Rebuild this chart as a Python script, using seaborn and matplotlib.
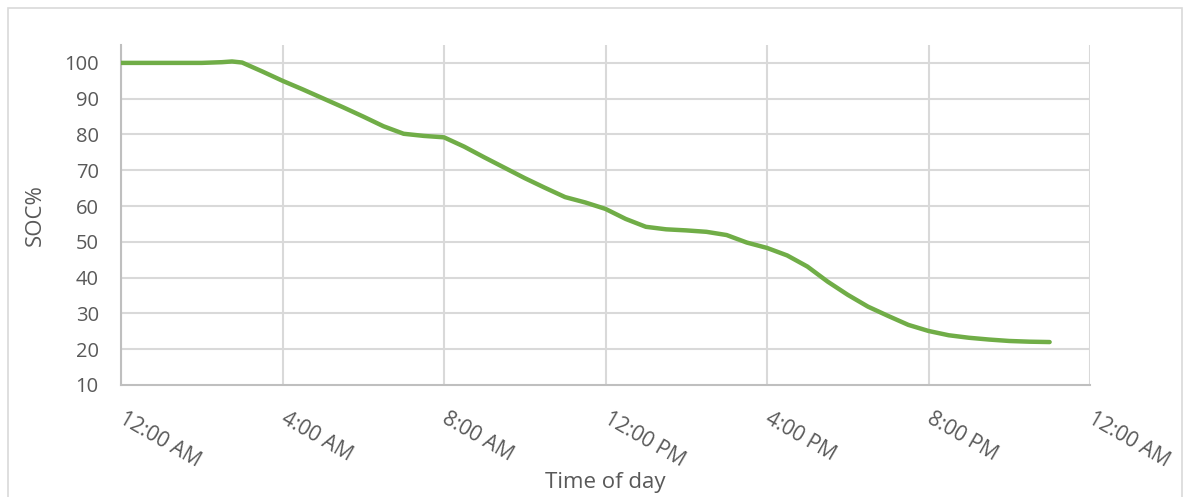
import pandas as pd
import numpy as np
import matplotlib.pyplot as plt
import seaborn as sns
from matplotlib.patches import Rectangle

# state of charge every half hour
hours = [0, 0.5, 1, 1.5, 2, 2.5, 2.75, 3, 3.5, 4, 4.5, 5, 5.5, 6, 6.5, 7, 7.5, 8,
         8.5, 9, 9.5, 10, 10.5, 11, 11.5, 12, 12.5, 13, 13.5, 14, 14.5, 15, 15.5, 16,
         16.5, 17, 17.5, 18, 18.5, 19, 19.5, 20, 20.5, 21, 21.5, 22, 22.5, 23]
soc = [100, 100, 100, 100, 100, 100.2, 100.4, 100.1, 97.6, 95, 92.6, 90.1, 87.6, 85, 82.3, 80.2, 79.6, 79.2,
       76.6, 73.6, 70.7, 67.8, 65.1, 62.5, 61, 59.2, 56.4, 54.2, 53.5, 53.2, 52.8, 51.9, 49.8, 48.3,
       46.2, 43.1, 38.9, 35.2, 31.9, 29.3, 26.8, 25.1, 23.9, 23.2, 22.7, 22.3, 22.1, 22]

tick_hours = [0, 4, 8, 12, 16, 20, 24]
tick_labels = ['12:00 AM', '4:00 AM', '8:00 AM', '12:00 PM', '4:00 PM', '8:00 PM', '12:00 AM']
y_ticks = [10, 20, 30, 40, 50, 60, 70, 80, 90, 100]

df = pd.DataFrame({'Hour': hours, 'SOC': soc})

sns.set_style('white')
plt.rcParams['font.family'] = ['Open Sans', 'DejaVu Sans']

fig = plt.figure(figsize=(11.88, 4.97), dpi=100)
ax = fig.add_axes([121 / 1188, 1 - 385 / 497, (1090 - 121) / 1188, (385 - 45) / 497])

# outer chart frame
fig.patches.append(Rectangle((8 / 1188, -0.1), (1182 - 8) / 1188, 1.1 - 8 / 497,
                             transform=fig.transFigure, fill=False,
                             edgecolor='#d9d9d9', linewidth=1.2))

sns.lineplot(data=df, x='Hour', y='SOC', ax=ax, color='#70ad47', linewidth=3.2,
             solid_capstyle='round', solid_joinstyle='round', zorder=3)

ax.set_xlim(0, 24)
ax.set_ylim(10, 105)
ax.set_xticks(tick_hours)
ax.set_xticklabels(tick_labels, rotation=-30, ha='left', va='center', rotation_mode='anchor')
ax.set_yticks(y_ticks)

for h in tick_hours:
    ax.axvline(h, color='#d9d9d9', linewidth=1.5, zorder=1)
for v in y_ticks[1:]:
    ax.axhline(v, color='#d9d9d9', linewidth=1.5, zorder=1)

for side in ['top', 'right']:
    ax.spines[side].set_visible(False)
for side in ['left', 'bottom']:
    ax.spines[side].set_color('#bfbfbf')
    ax.spines[side].set_linewidth(1.5)
    ax.spines[side].set_zorder(2)

ax.tick_params(axis='y', length=0, pad=16, labelsize=14.5, labelcolor='#595959')
ax.tick_params(axis='x', length=0, pad=23, labelsize=15, labelcolor='#595959')

ax.set_xlabel('Time of day', fontsize=16, color='#595959', va='top')
ax.xaxis.set_label_coords(0.5, -(472 - 385) / 340)
ax.set_ylabel('SOC%', fontsize=16, color='#595959')
ax.yaxis.set_label_coords(-(121 - 46) / 969, 0.5)

fig.savefig('out.png', dpi=100)
